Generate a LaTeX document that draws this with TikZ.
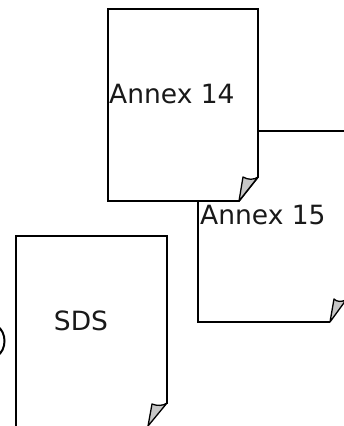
\documentclass[tikz,border=0pt]{standalone}
\usepackage{fontspec}
\setmainfont{DejaVu Sans}
\tikzset{
  px/.style={x=1pt,y=-1pt},
  edgeline/.style={draw=black,line width=1.8pt,line join=miter},
  curl/.style={draw=black,fill=black!22,line width=1.3pt,line join=round},
  lab/.style={inner sep=0pt,font=\fontsize{26.5}{29}\selectfont,text=black!90}
}
\begin{document}
\begin{tikzpicture}[px]
\useasboundingbox (0,0) rectangle (344,426);
\fill[white] (0,0) rectangle (344,426);
% Annex 15 page
\coordinate (b1) at (198,202);
\coordinate (b2) at (198,322);
\coordinate (b3) at (330,322);
\coordinate (b4) at (344,131);
\coordinate (b5) at (258,131);
\draw[edgeline] (b1) -- (b2) -- (b3);
\draw[edgeline] (b5) -- (b4);
\draw[curl] (330,322) -- (334,299) .. controls (337,302) and (341,302) .. (346,300) -- cycle;
% SDS page
\coordinate (c1) at (16,426);
\coordinate (c2) at (16,236);
\coordinate (c3) at (167,236);
\coordinate (c4) at (167,404);
\draw[edgeline] (c1) -- (c2) -- (c3) -- (c4);
\draw[curl] (167,403) .. controls (163,406) and (157,406) .. (152,404) -- (148,426) -- cycle;
% Annex 14 page
\coordinate (a1) at (108,9);
\coordinate (a2) at (258,9);
\coordinate (a3) at (258,177);
\coordinate (a4) at (239,201);
\coordinate (a5) at (108,201);
\draw[edgeline,fill=white] (a1) -- (a2) -- (a3) -- (a4) -- (a5) -- cycle;
\draw[curl] (258,177) .. controls (254,180) and (248,180) .. (243,177) -- (239,201) -- cycle;
% partial arc at left edge
\draw[line width=2pt] (-3,326) .. controls (7,332) and (7,350) .. (-3,356);
% labels
\node[lab,anchor=base west] (t1) at (109,103) {Annex 14};
\node[lab,anchor=base west] (t2) at (200,224) {Annex 15};
\node[lab,anchor=base] (t3) at (81,330) {SDS};
\end{tikzpicture}
\end{document}
